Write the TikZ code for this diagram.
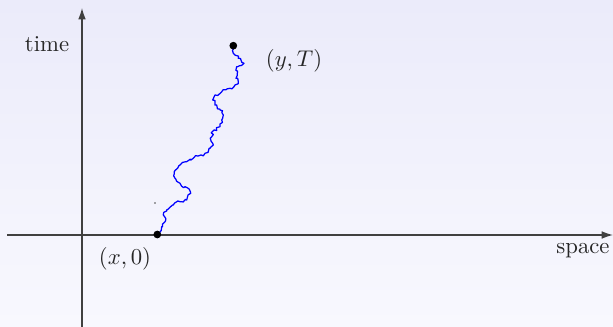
\documentclass[tikz,border=0pt]{standalone}
\usetikzlibrary{arrows.meta,decorations.pathmorphing}
\definecolor{bgtop}{RGB}{235,235,250}
\definecolor{bgbottom}{RGB}{248,248,254}
\begin{document}
\begin{tikzpicture}[x=0.44pt,y=-0.44pt,
    axis/.style={draw=black!75, line width=0.6pt, -{Latex[length=5pt,width=3.4pt]}},
    lbl/.style={text=black!85, inner sep=1pt},
    walk/.style={blue, line width=0.55pt, line join=round,
      decorate, decoration={random steps, segment length=1pt, amplitude=0.75pt}}]
  \pgfmathsetseed{7}
  % Hintergrund
  \shade[top color=bgtop, bottom color=bgbottom] (0,0) rectangle (613,327);
  \useasboundingbox (0,0) rectangle (613,327);

  % Achsen
  \coordinate (ybot) at (82,327);
  \coordinate (ytop) at (82,8);
  \coordinate (xleft) at (7,235);
  \coordinate (xright) at (613,235);
  \draw[axis] (ybot) -- (ytop);
  \draw[axis] (xleft) -- (xright);

  \node[lbl] (time) at (47,44) {time};
  \node[lbl] (space) at (583,251) {space};

  % Pfad
  \coordinate (start) at (157.3,234.5);
  \coordinate (end) at (233.3,45.7);
  \draw[walk] (end) -- (233.3,53.3) -- (238.3,58.3) -- (244,63.3) -- (236.7,66.7)
    -- (237.3,73.3) -- (236,78.3) -- (238.3,81.7) -- (235,85) -- (230,88.3)
    -- (221.7,91.7) -- (215,95) -- (212.7,100) -- (216.7,105) -- (220,110)
    -- (223.3,115) -- (221.7,120) -- (220,126.7) -- (214,130) -- (211.7,136.7)
    -- (212.7,143.3) -- (210,148.3) -- (205,153.3) -- (198.3,156) -- (193.3,158.3)
    -- (186.7,161.7) -- (180,165) -- (174.3,171.7) -- (175,178.3) -- (180,183.3)
    -- (185,186.7) -- (190.7,193.3) -- (186.7,200) -- (180,201.7) -- (173.3,205)
    -- (166.7,210) -- (163.3,215) -- (165,221.7) -- (161.7,226.7) -- (start);

  \fill (start) circle (1.7pt);
  \fill (end) circle (1.7pt);
  \fill[black!70] (155,203) circle (0.35pt);

  \node[lbl] (xzero) at (125,259) {$(x,0)$};
  \node[lbl] (yT) at (294,61) {$(y,T)$};
\end{tikzpicture}
\end{document}
